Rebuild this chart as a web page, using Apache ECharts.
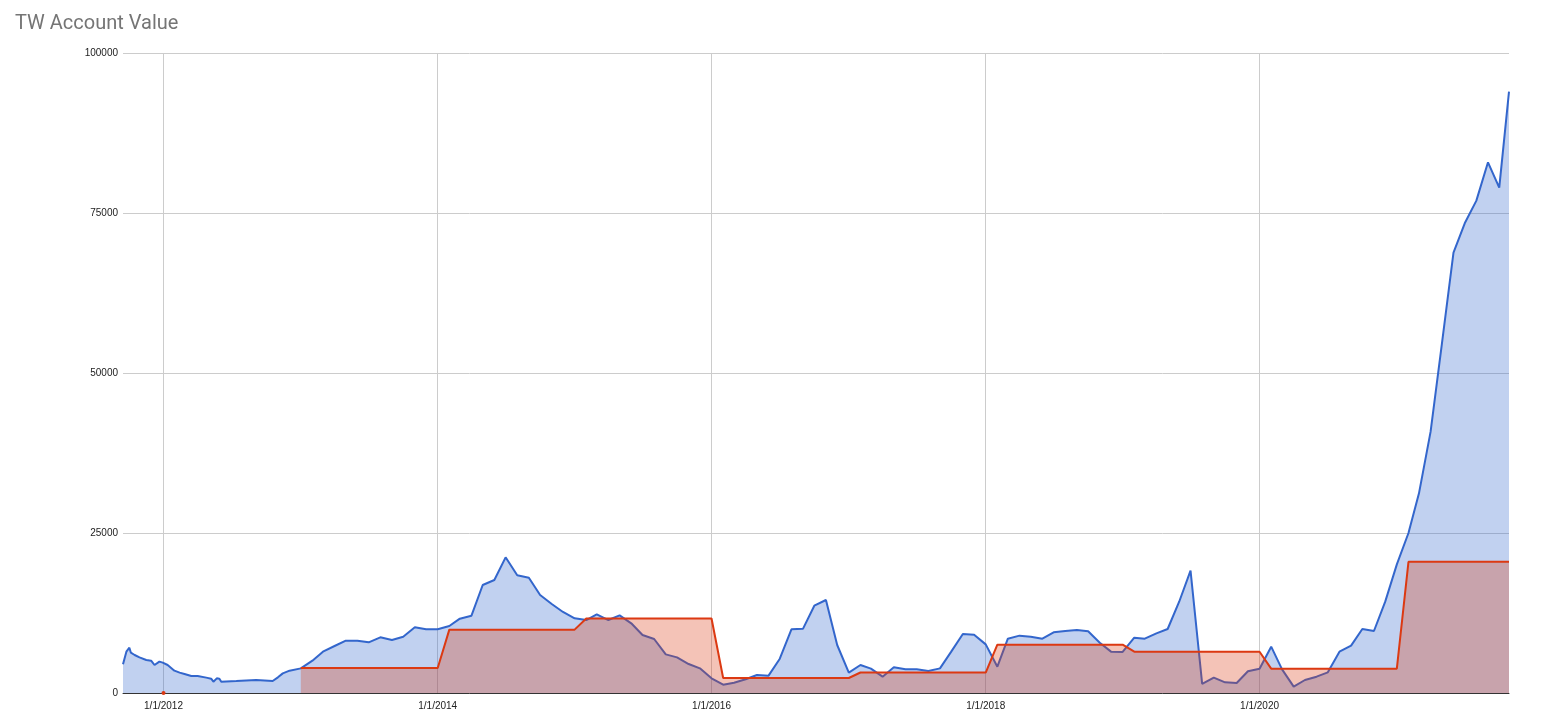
<!DOCTYPE html>
<html><head><meta charset="utf-8">
<script src="https://cdn.jsdelivr.net/npm/echarts@6/dist/echarts.min.js"></script>
<style>html,body{margin:0;padding:0;background:#fff}#c{width:1549px;height:724px}</style>
</head><body><div id="c"></div>
<script>
const chartTitle = 'TW Account Value';

// Early, denser readings (account value only)
const earlyDates = ['2011-09-15','2011-09-24','2011-09-28','2011-10-02','2011-10-06','2011-10-16','2011-10-29','2011-11-16','2011-11-29','2011-12-08','2011-12-21','2011-12-30','2012-01-12','2012-01-30','2012-02-13','2012-02-26','2012-03-15','2012-04-01','2012-04-24','2012-05-07','2012-05-13','2012-05-22','2012-05-29','2012-06-03','2012-07-13','2012-09-04','2012-10-18','2012-11-01','2012-11-14','2012-12-02'];
const earlyValues = [4500,6450,6700,7080,6300,5940,5570,5160,5050,4375,4900,4740,4375,3490,3180,2970,2660,2660,2400,2240,1770,2290,2240,1770,1875,2030,1875,2450,3070,3490];

// Monthly readings from 2013
const monthlyDates = [
 '2013-01-01','2013-02-01','2013-03-01','2013-04-01','2013-05-01','2013-06-01','2013-07-01','2013-08-01','2013-09-01','2013-10-01','2013-11-01','2013-12-01',
 '2014-01-01','2014-02-01','2014-03-01','2014-04-01','2014-05-01','2014-06-01','2014-07-01','2014-08-01','2014-09-01','2014-10-01','2014-11-01','2014-12-01',
 '2015-01-01','2015-02-01','2015-03-01','2015-04-01','2015-05-01','2015-06-01','2015-07-01','2015-08-01','2015-09-01','2015-10-01','2015-11-01','2015-12-01',
 '2016-01-01','2016-02-01','2016-03-01','2016-04-01','2016-05-01','2016-06-01','2016-07-01','2016-08-01','2016-09-01','2016-10-01','2016-11-01','2016-12-01',
 '2017-01-01','2017-02-01','2017-03-01','2017-04-01','2017-05-01','2017-06-01','2017-07-01','2017-08-01','2017-09-01','2017-10-01','2017-11-01','2017-12-01',
 '2018-01-01','2018-02-01','2018-03-01','2018-04-01','2018-05-01','2018-06-01','2018-07-01','2018-08-01','2018-09-01','2018-10-01','2018-11-01','2018-12-01',
 '2019-01-01','2019-02-01','2019-03-01','2019-04-01','2019-05-01','2019-06-01','2019-07-01','2019-08-01','2019-09-01','2019-10-01','2019-11-01','2019-12-01',
 '2020-01-01','2020-02-01','2020-03-01','2020-04-01','2020-05-01','2020-06-01','2020-07-01','2020-08-01','2020-09-01','2020-10-01','2020-11-01','2020-12-01',
 '2021-01-01','2021-02-01','2021-03-01','2021-04-01','2021-05-01','2021-06-01','2021-07-01','2021-08-01','2021-09-01','2021-10-01','2021-10-27'
];
const accountValue = [
 3850,5050,6460,7340,8180,8180,7920,8700,8280,8800,10260,9950,
 9950,10470,11610,12080,16875,17660,21200,18390,18020,15310,13900,12660,
 11670,11400,12300,11400,12140,10890,9060,8440,6040,5570,4530,3850,
 2290,1300,1610,2140,2810,2710,5360,9950,10050,13640,14530,7500,
 3180,4375,3800,2550,4010,3700,3700,3440,3850,6460,9220,9110,
 7600,4110,8490,8960,8800,8490,9480,9690,9840,9640,7860,6460,
 6410,8640,8490,9320,10000,14300,19110,1410,2400,1670,1560,3390,
 3800,7240,3700,990,2030,2550,3230,6460,7400,10000,9690,14270,
 20100,25000,31200,40830,54500,68800,73390,76930,82920,78960,93960
];
const contributions = [
 3900,3900,3900,3900,3900,3900,3900,3900,3900,3900,3900,3900,
 3900,9900,9900,9900,9900,9900,9900,9900,9900,9900,9900,9900,
 9900,11650,11650,11650,11650,11650,11650,11650,11650,11650,11650,11650,
 11650,2340,2340,2340,2340,2340,2340,2340,2340,2340,2340,2340,
 2340,3200,3200,3200,3200,3200,3200,3200,3200,3200,3200,3200,
 3200,7550,7550,7550,7550,7550,7550,7550,7550,7550,7550,7550,
 7550,6450,6450,6450,6450,6450,6450,6450,6450,6450,6450,6450,
 6450,3800,3800,3800,3800,3800,3800,3800,3800,3800,3800,3800,
 3800,20500,20500,20500,20500,20500,20500,20500,20500,20500,20500
];
const redDotDate = '2012-01-01';
const redDotValue = 0;

const xTickDates = ['2012-01-01','2014-01-01','2016-01-01','2018-01-01','2020-01-01'];
const xTickLabels = ['1/1/2012','1/1/2014','1/1/2016','1/1/2018','1/1/2020'];

function ts(s){const p=s.split('-').map(Number);return Date.UTC(p[0],p[1]-1,p[2]);}

const blueData = earlyDates.map((d,i)=>[ts(d),earlyValues[i]])
  .concat(monthlyDates.map((d,i)=>[ts(d),accountValue[i]]));
const redData = [{value:[ts(redDotDate),redDotValue],symbol:'circle',symbolSize:4},[ts('2012-06-01'),null]]
  .concat(monthlyDates.map((d,i)=>[ts(d),contributions[i]]));
const tickTs = xTickDates.map(ts);

const chart = echarts.init(document.getElementById('c'), null, {renderer:'canvas'});
chart.setOption({
  animation:false,
  backgroundColor:'#fff',
  title:{text:chartTitle,left:10,top:9,textStyle:{fontFamily:'Roboto',fontSize:20,fontWeight:'normal',color:'#757575'}},
  grid:{left:123,right:40,top:53,bottom:31,containLabel:false},
  xAxis:{
    type:'value',
    min:ts(earlyDates[0]),
    max:ts(monthlyDates[monthlyDates.length-1]),
    axisLine:{show:true,onZero:true,lineStyle:{color:'#333',width:1}},
    axisTick:{show:false,customValues:tickTs},
    axisLabel:{customValues:tickTs,margin:8,fontFamily:'Liberation Sans',fontSize:10,color:'#222',
      formatter:function(v){const i=tickTs.indexOf(v);return i>=0?xTickLabels[i]:'';}},
    splitLine:{show:true,lineStyle:{color:'#ccc',width:1}}
  },
  yAxis:{
    type:'value',min:0,max:100000,interval:25000,
    axisLine:{show:false},axisTick:{show:false},
    axisLabel:{margin:5,fontFamily:'Liberation Sans',fontSize:10,color:'#222',
      formatter:function(v){return String(v);}},
    splitLine:{show:true,lineStyle:{color:'#ccc',width:1}}
  },
  series:[
    {type:'line',data:blueData,showSymbol:false,z:2,
     lineStyle:{color:'#3366cc',width:2},itemStyle:{color:'#3366cc'},
     areaStyle:{color:'#3366cc',opacity:0.3}},
    {type:'line',data:redData,showSymbol:true,symbolSize:0,z:3,connectNulls:false,
     lineStyle:{color:'#dc3912',width:2},itemStyle:{color:'#dc3912'},
     areaStyle:{color:'#dc3912',opacity:0.3}}
  ]
});
</script></body></html>
